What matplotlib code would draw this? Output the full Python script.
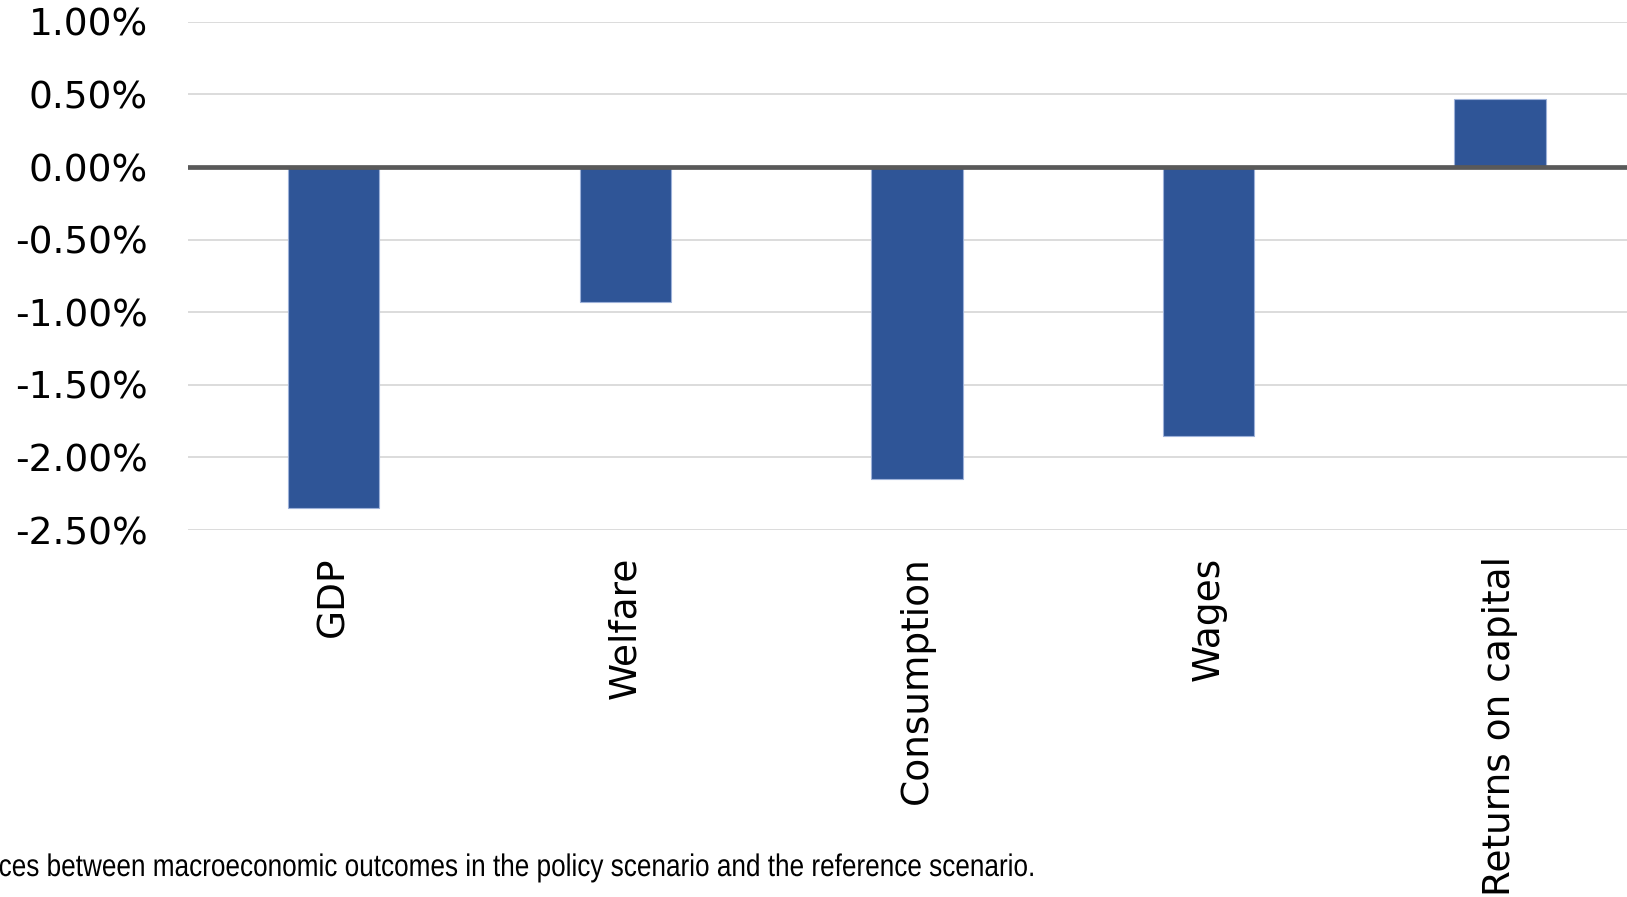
import numpy as np
import matplotlib
matplotlib.use("Agg")
import matplotlib.pyplot as plt
from matplotlib.ticker import FuncFormatter
from matplotlib.patheffects import AbstractPathEffect
from matplotlib.transforms import Affine2D

# percentage change, policy vs reference scenario
categories = ["GDP", "Welfare", "Consumption", "Wages", "Returns on capital"]
changes = [-2.35, -0.93, -2.15, -1.85, 0.47]
yticks = [-2.5, -2.0, -1.5, -1.0, -0.5, 0.0, 0.5, 1.0]
note = "ces between macroeconomic outcomes in the policy scenario and the reference scenario."

bar_color = "#2F5597"


class Narrow(AbstractPathEffect):
    # squeeze glyphs horizontally (no condensed font installed)
    def __init__(self, sx):
        super().__init__()
        self.sx = sx

    def draw_path(self, renderer, gc, tpath, affine, rgbFace=None):
        renderer.draw_path(gc, tpath, affine + Affine2D().scale(self.sx, 1), rgbFace)


fig = plt.figure(figsize=(16.27, 8.97), dpi=100)
ax = fig.add_axes([0.1156, 0.4091, 0.896, 0.5666])

x = np.arange(len(categories))
ax.bar(x, changes, width=0.313, color=bar_color, edgecolor="#9DB1D9",
       linewidth=0.8, zorder=3)
ax.axhline(0, color="#595959", linewidth=3.4, zorder=4)

ax.set_xlim(-0.5, len(categories) - 0.5)
ax.set_ylim(yticks[0], yticks[-1])
ax.set_yticks(yticks)
ax.yaxis.set_major_formatter(FuncFormatter(lambda v, p: "%.2f%%" % v))
ax.set_xticks(x)
ax.set_xticklabels(categories, rotation=90, va="top", ha="center")

ax.yaxis.grid(True, color="#D9D9D9", linewidth=1.3, zorder=0)
ax.set_axisbelow(True)
for s in ax.spines.values():
    s.set_visible(False)

ax.tick_params(axis="y", length=0, pad=29, labelsize=27, labelcolor="black")
ax.tick_params(axis="x", length=0, pad=19, labelsize=27, labelcolor="black")
for lbl in ax.get_xticklabels() + ax.get_yticklabels():
    lbl.set_fontfamily("DejaVu Sans")

fig.text(-0.001, 0.0234, note, ha="left", va="baseline", fontsize=22.5,
         family="Liberation Sans", color="black",
         path_effects=[Narrow(0.837)])

fig.savefig("out.png", dpi=100)
